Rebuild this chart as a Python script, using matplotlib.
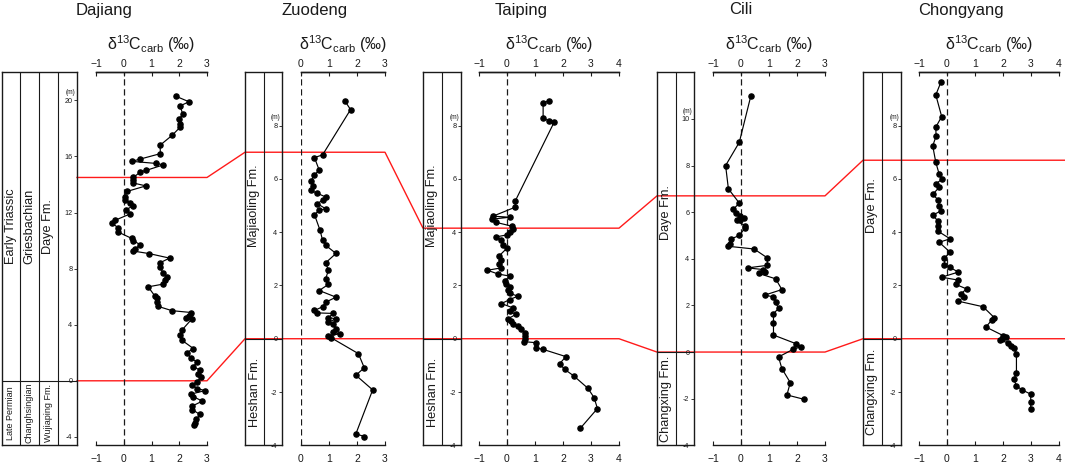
import matplotlib
matplotlib.use("Agg")
import matplotlib.pyplot as plt
from matplotlib.lines import Line2D

plt.rcParams['font.family'] = ['Liberation Sans', 'DejaVu Sans']
plt.rcParams['mathtext.fontset'] = 'custom'
plt.rcParams['mathtext.rm'] = 'Liberation Sans'
plt.rcParams['mathtext.it'] = 'Liberation Sans:italic'
plt.rcParams['mathtext.bf'] = 'Liberation Sans:bold'

# ---------------- data ----------------
section_names = ["Dajiang", "Zuodeng", "Taiping", "Cili", "Chongyang"]

dajiang_height = [20.3, 19.9, 19.6, 19.0, 18.7, 18.3, 18.1, 17.5, 16.8, 16.2, 15.8, 15.65, 15.5, 15.4,
                  15.0, 14.9, 14.5, 14.35, 14.1, 13.9, 13.5, 13.1, 12.9, 12.7, 12.5, 12.2, 11.9, 11.45,
                  11.25, 10.9, 10.6, 10.15, 10.0, 9.7, 9.4, 9.25, 9.07, 8.75, 8.4, 8.1, 7.7, 7.4, 7.2,
                  6.9, 6.7, 6.05, 5.9, 5.6, 5.3, 5.0, 4.87, 4.6, 4.45, 4.4, 3.6, 3.25, 2.9, 2.3, 2.0,
                  1.6, 1.35, 1.0, 0.76, 0.52, 0.24, -0.07, -0.3, -0.55, -0.7, -0.95, -1.12, -1.45,
                  -1.8, -2.05, -2.4, -2.75, -3.0, -3.15]
dajiang_d13c = [1.87, 2.35, 2.03, 2.13, 2.00, 2.04, 2.04, 1.74, 1.31, 1.32, 0.57, 0.29, 1.17, 1.43,
                0.80, 0.60, 0.35, 0.35, 0.35, 0.80, 0.11, 0.05, 0.05, 0.23, 0.35, 0.09, 0.23, -0.31,
                -0.43, -0.19, -0.19, 0.29, 0.35, 0.59, 0.41, 0.35, 0.92, 1.65, 1.29, 1.29, 1.43, 1.55,
                1.49, 1.43, 0.88, 1.12, 1.20, 1.20, 1.25, 1.74, 2.43, 2.35, 2.23, 2.45, 2.09, 2.03,
                2.09, 2.51, 2.27, 2.43, 2.63, 2.51, 2.75, 2.69, 2.78, 2.63, 2.46, 2.65, 2.93, 2.42,
                2.50, 2.83, 2.47, 2.47, 2.74, 2.62, 2.56, 2.52]

zuodeng_height = [8.92, 8.6, 6.9, 6.8, 6.33, 6.15, 5.93, 5.72, 5.57, 5.47, 5.32, 5.2, 5.07, 4.88,
                  4.82, 4.66, 4.07, 3.7, 3.5, 3.2, 2.85, 2.57, 2.25, 2.04, 1.81, 1.56, 1.37, 1.2,
                  1.06, 0.97, 0.95, 0.79, 0.75, 0.62, 0.54, 0.35, 0.25, 0.19, 0.1, 0.04, -0.56,
                  -1.09, -1.37, -1.92, -3.57, -3.67]
zuodeng_d13c = [1.57, 1.77, 0.77, 0.48, 0.65, 0.48, 0.36, 0.44, 0.35, 0.56, 0.88, 0.77, 0.58, 0.88,
                0.65, 0.48, 0.68, 0.77, 0.89, 1.25, 0.88, 0.98, 0.88, 0.98, 0.65, 1.25, 0.88, 0.77,
                0.48, 0.56, 1.15, 0.98, 1.25, 0.98, 1.15, 1.25, 1.15, 1.39, 0.98, 1.07, 2.05, 2.26,
                1.96, 2.56, 1.96, 2.26]

taiping_height = [8.94, 8.84, 8.27, 8.18, 8.12, 5.18, 4.94, 4.6, 4.56, 4.49, 4.37, 4.22, 4.1, 4.0,
                  3.9, 3.82, 3.7, 3.53, 3.4, 3.1, 2.97, 2.8, 2.66, 2.57, 2.43, 2.35, 2.18, 2.07,
                  1.95, 1.82, 1.7, 1.6, 1.47, 1.32, 1.16, 1.04, 0.91, 0.75, 0.66, 0.57, 0.47, 0.35,
                  0.22, 0.1, -0.02, -0.11, -0.15, -0.34, -0.4, -0.67, -0.94, -1.15, -1.4, -1.86,
                  -2.21, -2.62, -3.36]
taiping_d13c = [1.50, 1.29, 1.29, 1.50, 1.68, 0.30, 0.30, -0.50, 0.10, -0.52, -0.40, 0.19, 0.21,
                0.10, 0.01, -0.40, -0.20, -0.14, 0.00, -0.29, -0.20, -0.29, -0.20, -0.70, -0.32,
                0.10, -0.08, -0.02, 0.10, 0.04, 0.10, 0.39, 0.10, -0.20, 0.21, 0.10, 0.31, 0.04,
                0.15, 0.21, 0.39, 0.51, 0.63, 0.63, 0.63, 0.61, 1.05, 1.02, 1.29, 2.10, 1.88, 2.06,
                2.39, 2.89, 3.11, 3.23, 2.62]

cili_height = [10.98, 9.0, 8.0, 7.0, 6.39, 6.13, 5.96, 5.85, 5.75, 5.68, 5.65, 5.42, 5.32, 5.0,
               4.85, 4.64, 4.54, 4.42, 4.04, 3.72, 3.61, 3.54, 3.45, 3.37, 3.14, 2.68, 2.44, 2.37,
               2.14, 1.87, 1.65, 1.23, 0.73, 0.36, 0.23, 0.11, -0.21, -0.71, -1.31, -1.84, -2.03]
cili_d13c = [0.35, -0.06, -0.55, -0.45, -0.06, -0.27, -0.18, -0.04, 0.12, -0.04, -0.16, 0.14, 0.14,
             -0.06, -0.36, -0.39, -0.48, 0.47, 0.94, 0.94, 0.24, 0.78, 0.84, 0.64, 1.24, 1.46, 0.84,
             1.16, 1.24, 1.34, 1.16, 1.16, 1.16, 1.96, 2.15, 1.85, 1.34, 1.46, 1.76, 1.64, 2.26]

chongyang_height = [9.65, 9.15, 8.34, 7.94, 7.6, 7.24, 6.62, 6.18, 5.98, 5.81, 5.68, 5.42, 5.2, 4.98,
                    4.8, 4.64, 4.4, 4.22, 4.03, 3.75, 3.62, 3.25, 3.03, 2.76, 2.68, 2.5, 2.31, 2.2,
                    2.04, 1.87, 1.69, 1.57, 1.41, 1.2, 0.79, 0.69, 0.44, 0.12, 0.06, 0.0, -0.06,
                    -0.15, -0.27, -0.36, -0.56, -1.3, -1.52, -1.77, -1.92, -2.08, -2.37, -2.62]
chongyang_d13c = [-0.21, -0.40, -0.19, -0.40, -0.39, -0.51, -0.40, -0.28, -0.19, -0.40, -0.28, -0.51,
                  -0.31, -0.28, -0.21, -0.51, -0.31, -0.31, -0.31, 0.11, -0.28, 0.11, -0.09, -0.09,
                  0.11, 0.40, -0.19, 0.40, 0.31, 0.70, 0.50, 0.61, 0.40, 1.29, 1.69, 1.59, 1.39,
                  2.00, 2.09, 1.95, 1.89, 2.18, 2.28, 2.39, 2.48, 2.48, 2.39, 2.48, 2.68, 2.99,
                  2.99, 2.99]

heights = [dajiang_height, zuodeng_height, taiping_height, cili_height, chongyang_height]
d13c = [dajiang_d13c, zuodeng_d13c, taiping_d13c, cili_d13c, chongyang_d13c]

xlims = [(-1, 3), (0, 3), (-1, 4), (-1, 3), (-1, 4)]
xticks = [[-1, 0, 1, 2, 3], [0, 1, 2, 3], [-1, 0, 1, 2, 3, 4], [-1, 0, 1, 2, 3], [-1, 0, 1, 2, 3, 4]]
ylims = [(-4.6, 22), (-4, 10), (-4, 10), (-4, 12), (-4, 10)]
yticks = [[-4, 0, 4, 8, 12, 16, 20], [-4, -2, 0, 2, 4, 6, 8], [-4, -2, 0, 2, 4, 6, 8],
          [-4, -2, 0, 2, 4, 6, 8, 10], [-4, -2, 0, 2, 4, 6, 8]]

# stratigraphic column texts (upper unit, lower unit) per sub-column
dajiang_units = [("Early Triassic", "Late Permian"), ("Griesbachian", "Changhsingian"),
                 ("Daye Fm.", "Wujiaping Fm.")]
zuodeng_units = [("Majiaoling Fm.", "Heshan Fm.")]
taiping_units = [("Majiaoling Fm.", "Heshan Fm.")]
cili_units = [("Daye Fm.", "Changxing Fm.")]
chongyang_units = [("Daye Fm.", "Changxing Fm.")]
units = [dajiang_units, zuodeng_units, taiping_units, cili_units, chongyang_units]

# correlation boundaries (m) in each section
upper_boundary = [14.5, 7.0, 4.15, 6.7, 6.7]
lower_boundary = [0, 0, 0, 0, 0]

# ---------------- layout (pixels) ----------------
W, H = 1065, 465
Y_TOP, Y_BOT = 72.3, 445.3
col_px = [(2, 77), (245, 282), (423, 461), (657, 694), (863, 901)]
col_div_px = [[20, 39, 58], [264], [442], [676], [882]]
data_px = [(96, 207), (301, 385), (479, 619), (713, 825), (919, 1059)]
INK = '#1a1a1a'


def box(x0, x1, y0=Y_TOP, y1=Y_BOT):
    return [x0 / W, 1 - y1 / H, (x1 - x0) / W, (y1 - y0) / H]


fig = plt.figure(figsize=(W / 100, H / 100), dpi=100)

data_axes, col_axes = [], []
for i, name in enumerate(section_names):
    # --- strat column ---
    cx0, cx1 = col_px[i]
    cax = fig.add_axes(box(cx0, cx1))
    cax.set_facecolor('none')
    cax.set_xlim(0, 1)
    cax.set_ylim(*ylims[i])
    cax.set_xticks([]); cax.set_yticks([])
    for s in cax.spines.values():
        s.set_linewidth(1.0); s.set_color(INK)
    edges = [0] + [(d - cx0) / (cx1 - cx0) for d in col_div_px[i]] + [1]
    for e in edges[1:-1]:
        cax.axvline(e, color=INK, lw=0.8)
    cax.axhline(lower_boundary[i], color=INK, lw=0.8)
    ymin, ymax = ylims[i]
    up_mid = (lower_boundary[i] + ymax) / 2
    lo_mid = (ymin + lower_boundary[i]) / 2
    small = (i == 0)
    for j, (up_txt, lo_txt) in enumerate(units[i]):
        xc = (edges[j] + edges[j + 1]) / 2
        cax.text(xc, up_mid, up_txt, rotation=90, ha='center', va='center',
                 rotation_mode='anchor', fontsize=9.2, color=INK)
        cax.text(xc, lo_mid, lo_txt, rotation=90, ha='center', va='center',
                 rotation_mode='anchor', fontsize=6.5 if small else 9.2, color=INK)
    col_axes.append(cax)

    # --- height scale on the column's right edge ---
    tax = fig.add_axes(box(cx1, cx1 + 0.01))
    tax.set_facecolor('none')
    tax.set_ylim(*ylims[i])
    for s in tax.spines.values():
        s.set_visible(False)
    tax.set_xticks([])
    tax.set_yticks(yticks[i])
    tax.set_yticklabels([str(t) for t in yticks[i]])
    tax.tick_params(axis='y', direction='out', length=2.5, width=0.6, pad=0.8,
                    labelsize=5.2, colors=INK)
    tax.annotate('(m)', xy=(0, yticks[i][-1]), xycoords=('axes fraction', 'data'),
                 xytext=(-1.5, 3), textcoords='offset points', ha='right', va='bottom',
                 fontsize=4.7, color=INK)

    # --- isotope curve ---
    dx0, dx1 = data_px[i]
    ax = fig.add_axes(box(dx0, dx1))
    ax.set_facecolor('none')
    ax.set_xlim(*xlims[i])
    ax.set_ylim(*ylims[i])
    for side in ['left', 'right']:
        ax.spines[side].set_visible(False)
    for side in ['top', 'bottom']:
        ax.spines[side].set_linewidth(1.0)
        ax.spines[side].set_color(INK)
    ax.set_yticks([])
    ax.set_xticks(xticks[i])
    ax.tick_params(axis='x', direction='in', length=3, width=0.8, pad=6.5,
                   labelsize=7.5, colors=INK)
    sec = ax.secondary_xaxis('top')
    sec.set_xticks(xticks[i])
    sec.tick_params(axis='x', direction='in', length=3, width=0.8, pad=2.5,
                    labelsize=7.5, colors=INK)
    sec.spines['top'].set_linewidth(1.0)
    sec.spines['top'].set_color(INK)
    ax.axvline(0, color=INK, lw=0.9, ls=(0, (5, 3)), zorder=1)
    ax.plot(d13c[i], heights[i], color='black', lw=0.85, marker='o', ms=3.7,
            markerfacecolor='black', markeredgecolor='black', zorder=3, clip_on=False)
    data_axes.append(ax)

    # titles / axis labels
    fig.text(((cx0 + dx1) / 2) / W, 1 - 10 / H, name, ha='center', va='center',
             fontsize=12, color=INK)
    fig.text(((dx0 + dx1) / 2) / W, 1 - 44 / H, r'$\mathrm{δ^{13}C_{carb}}$ (‰)',
             ha='center', va='center', fontsize=11.5, color=INK)

# ---------------- correlation lines ----------------
fig.canvas.draw()
inv = fig.transFigure.inverted()


def fig_pt(x_disp, ax, depth):
    y_disp = ax.transData.transform((0, depth))[1]
    return inv.transform((x_disp, y_disp))


for bnd in (upper_boundary, lower_boundary):
    xs, ys = [], []
    for i in range(len(section_names)):
        ax = data_axes[i]
        cax = col_axes[i]
        if i == 0:
            x_start = cax.transAxes.transform((1, 0))[0]
        else:
            x_start = cax.transAxes.transform((0, 0))[0]
        x_end = ax.transAxes.transform((1, 0))[0]
        for xd in (x_start, x_end):
            p = fig_pt(xd, ax, bnd[i])
            xs.append(p[0]); ys.append(p[1])
    xs.append(1.0); ys.append(ys[-1])
    fig.add_artist(Line2D(xs, ys, transform=fig.transFigure, color='#ff1a1a', lw=1.0, zorder=-1))

fig.savefig('out.png', dpi=100)
